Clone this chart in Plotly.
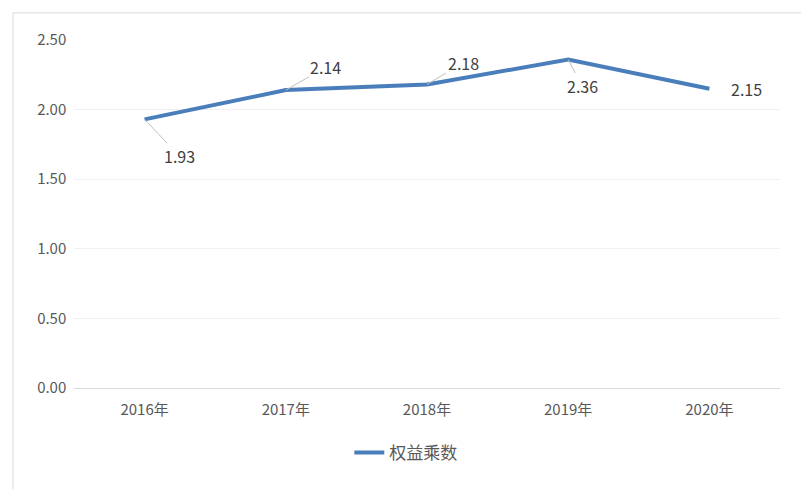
import plotly.graph_objects as go

years = ["2016年", "2017年", "2018年", "2019年", "2020年"]
values = [1.93, 2.14, 2.18, 2.36, 2.15]
label_dx = [35, 40, 36, 14, 37]
label_dy = [37, -23, -22, 27, 0]
show_leader = [True, True, True, True, False]

font = "Noto Sans CJK SC, Microsoft YaHei, sans-serif"

fig = go.Figure()
fig.add_trace(go.Scatter(x=years, y=values, mode="lines", name="权益乘数",
                         line=dict(color="#4a7ebb", width=4)))

for yr, v, dx, dy, sl in zip(years, values, label_dx, label_dy, show_leader):
    fig.add_annotation(x=yr, y=v, text=f"{v:.2f}", ax=dx, ay=dy, showarrow=True,
                       arrowhead=0, arrowwidth=1, standoff=0,
                       arrowcolor="#bfbfbf" if sl else "rgba(0,0,0,0)",
                       font=dict(size=16, color="#404040", family=font))

fig.add_shape(type="rect", xref="paper", yref="paper", x0=-0.0864, x1=1.044,
              y0=-0.296, y1=1.078, line=dict(color="#d9d9d9", width=1))

fig.update_layout(
    width=809, height=489, plot_bgcolor="white", paper_bgcolor="white",
    margin=dict(l=66, r=37, t=32, b=109, autoexpand=False),
    font=dict(family=font, color="#595959", size=15),
    showlegend=True,
    legend=dict(orientation="h", x=0.47, xanchor="center", yref="container",
                y=0.09, yanchor="middle", font=dict(size=17, color="#595959")),
    xaxis=dict(range=[-0.5, 4.5], showgrid=False, showline=True, linecolor="#d9d9d9",
               ticks="outside", ticklen=8, tickcolor="white", tickfont=dict(size=15),
               automargin=False),
    yaxis=dict(range=[0, 2.5], dtick=0.5, tickformat=".2f", showgrid=True,
               gridcolor="#f0f0f0", zeroline=False, tickfont=dict(size=15),
               ticksuffix="  ", automargin=False),
)

fig.write_html("out.html")
